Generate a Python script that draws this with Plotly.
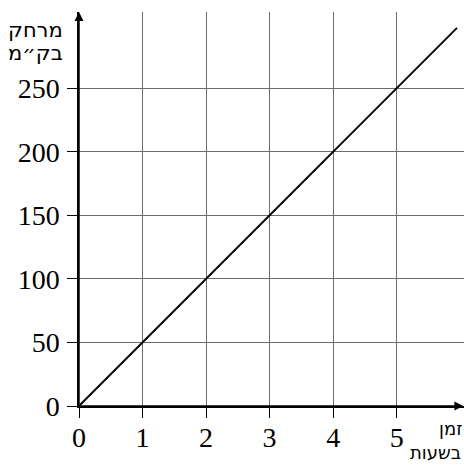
import plotly.graph_objects as go

# זמן בשעות / מרחק בק"מ
hours = [0, 1, 2, 3, 4, 5, 5.95]
distance_km = [0, 50, 100, 150, 200, 250, 297.5]

x_ticks = [0, 1, 2, 3, 4, 5]
y_ticks = [0, 50, 100, 150, 200, 250]

FONT = "Liberation Serif, Times New Roman, serif"
HEB_FONT = "DejaVu Sans, Noto Sans, sans-serif"

fig = go.Figure()
fig.add_trace(go.Scatter(
    x=hours, y=distance_km, mode="lines",
    line=dict(color="black", width=2),
    showlegend=False, hoverinfo="skip",
))

axis_common = dict(
    showline=True, linecolor="black", linewidth=1.5,
    showgrid=True, gridcolor="#6e6e6e", gridwidth=1,
    zeroline=False, ticks="outside", ticklen=10, tickwidth=1, tickcolor="black",
    tickfont=dict(family=FONT, size=28, color="black"),
    fixedrange=True,
)
fig.update_xaxes(range=[0, 6.06], tickvals=x_ticks, ticklabelstandoff=-4, **axis_common)
fig.update_yaxes(range=[0, 310], tickvals=y_ticks, ticklabelstandoff=2, **axis_common)

# arrows on the axes
fig.add_annotation(x=0, y=310, ax=0, ay=0, xref="x", yref="y", axref="x", ayref="y",
                   showarrow=True, arrowhead=2, arrowsize=1.2, arrowwidth=1.5,
                   arrowcolor="black", text="")
fig.add_annotation(x=6.05, y=0, ax=0, ay=0, xref="x", yref="y", axref="x", ayref="y",
                   showarrow=True, arrowhead=2, arrowsize=1.2, arrowwidth=1.5,
                   arrowcolor="black", text="")

# axis titles (Hebrew), one annotation per line for tight spacing
heb = dict(xref="paper", yref="paper", xanchor="right", yanchor="middle", showarrow=False)
fig.add_annotation(x=-0.036, y=0.955, text="מרחק",
                   font=dict(family=HEB_FONT, size=21, color="black"), **heb)
fig.add_annotation(x=-0.036, y=0.897, text="בק״מ",
                   font=dict(family=HEB_FONT, size=21, color="black"), **heb)
fig.add_annotation(x=1.0, y=-0.056, text="זמן",
                   font=dict(family=HEB_FONT, size=18, color="black"), **heb)
fig.add_annotation(x=0.997, y=-0.117, text="בשעות",
                   font=dict(family=HEB_FONT, size=18, color="black"), **heb)

fig.update_layout(
    width=464, height=468,
    margin=dict(l=79, r=0, t=12, b=62),
    plot_bgcolor="white", paper_bgcolor="white",
    showlegend=False,
)

fig.write_html("out.html", config={"displayModeBar": False},
               post_script="document.body.style.margin='0';")
